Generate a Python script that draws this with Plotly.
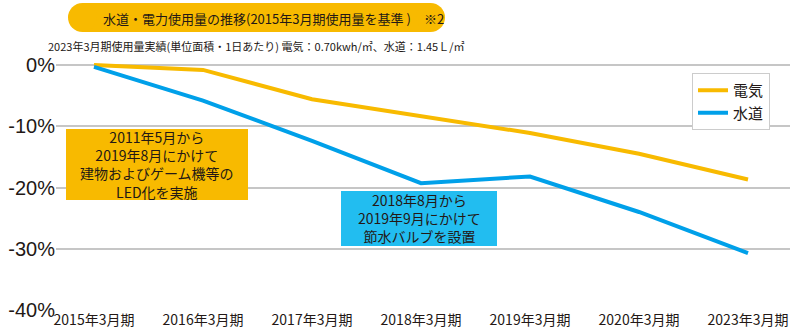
import plotly.graph_objects as go

categories = ["2015年3月期", "2016年3月期", "2017年3月期", "2018年3月期",
              "2019年3月期", "2020年3月期", "2023年3月期"]
electricity = [0.0, -0.8, -5.6, -8.3, -11.1, -14.5, -18.7]
water = [-0.3, -5.8, -12.4, -19.3, -18.2, -24.0, -30.7]
y_ticks = [0, -10, -20, -30, -40]
y_tick_text = ["0%", "-10%", "-20%", "-30%", "-40%"]

title_text = "水道・電力使用量の推移(2015年3月期使用量を基準 )"
note_text = "※2"
subtitle_text = "2023年3月期使用量実績(単位面積・1日あたり) 電気：0.70kwh/㎡、水道：1.45Ｌ/㎡"
led_lines = ["2011年5月から", "2019年8月にかけて", "建物およびゲーム機等の", "LED化を実施"]
valve_lines = ["2018年8月から", "2019年9月にかけて", "節水バルブを設置"]

ORANGE = "#F8BA00"
BLUE = "#00A0E9"
CYAN = "#22BDF0"
TXT = "#231815"
JP = "Noto Sans CJK JP"

W, H = 790, 335
L, R, T, B = 56, 0, 55, 25
PW, PH = W - L - R, H - T - B


def px(x):
    return (x - L) / PW


def py(y):
    return (H - B - y) / PH


fig = go.Figure()
fig.add_trace(go.Scatter(x=categories, y=electricity, mode="lines", name="電気",
                         line=dict(color=ORANGE, width=4)))
fig.add_trace(go.Scatter(x=categories, y=water, mode="lines", name="水道",
                         line=dict(color=BLUE, width=4)))

shapes = []
# title pill
shapes.append(dict(type="rect", xref="paper", yref="paper", x0=px(82.5), x1=px(430.5),
                   y0=py(32), y1=py(3), fillcolor=ORANGE, line=dict(width=0), layer="below"))
for cx in (82.5, 430.5):
    shapes.append(dict(type="circle", xref="paper", yref="paper", x0=px(cx - 14.5), x1=px(cx + 14.5),
                       y0=py(32), y1=py(3), fillcolor=ORANGE, line=dict(width=0), layer="below"))
# note boxes
shapes.append(dict(type="rect", xref="paper", yref="paper", x0=px(66), x1=px(248),
                   y0=py(200), y1=py(129), fillcolor=ORANGE, line=dict(width=0)))
shapes.append(dict(type="rect", xref="paper", yref="paper", x0=px(341), x1=px(497),
                   y0=py(246), y1=py(191), fillcolor=CYAN, line=dict(width=0)))

ann = []
ann.append(dict(text=title_text, x=px(256.5), y=py(18), xref="paper", yref="paper",
                showarrow=False, xanchor="center", yanchor="middle",
                font=dict(family=JP, size=13, color=TXT)))
ann.append(dict(text=note_text, x=px(434), y=py(18), xref="paper", yref="paper",
                showarrow=False, xanchor="center", yanchor="middle",
                font=dict(family=JP, size=13, color=TXT)))
ann.append(dict(text=subtitle_text, x=px(256), y=py(46), xref="paper", yref="paper",
                showarrow=False, xanchor="center", yanchor="middle",
                font=dict(family=JP, size=11, color=TXT)))
ann.append(dict(text="<br>".join(led_lines), x=px(157), y=py(164.5), xref="paper", yref="paper",
                showarrow=False, xanchor="center", yanchor="middle", align="center",
                font=dict(family=JP, size=14, color=TXT)))
ann.append(dict(text="<br>".join(valve_lines), x=px(419), y=py(218.5), xref="paper", yref="paper",
                showarrow=False, xanchor="center", yanchor="middle", align="center",
                font=dict(family=JP, size=14, color=TXT)))

fig.update_layout(
    width=W, height=H,
    margin=dict(l=L, r=R, t=T, b=B),
    paper_bgcolor="white", plot_bgcolor="white",
    shapes=shapes, annotations=ann,
    showlegend=True,
    legend=dict(x=px(692), y=py(73), xanchor="left", yanchor="top",
                bordercolor="#cccccc", borderwidth=1, bgcolor="white",
                font=dict(family=JP, size=15, color=TXT),
                tracegroupgap=0, itemwidth=30),
    xaxis=dict(type="category", range=[(L - 94) / 109, (W - R - 94) / 109],
               showgrid=False, zeroline=False, showline=False, ticks="",
               tickfont=dict(family=JP, size=14, color=TXT), fixedrange=True),
    yaxis=dict(range=[-40, 1.633],
               tickvals=y_ticks, ticktext=y_tick_text,
               showgrid=True, gridcolor="#c6c6c6", gridwidth=1.5,
               zeroline=False, showline=False, ticks="",
               tickfont=dict(family="Liberation Sans", size=20, color=TXT)),
)

fig.write_html("out.html")
